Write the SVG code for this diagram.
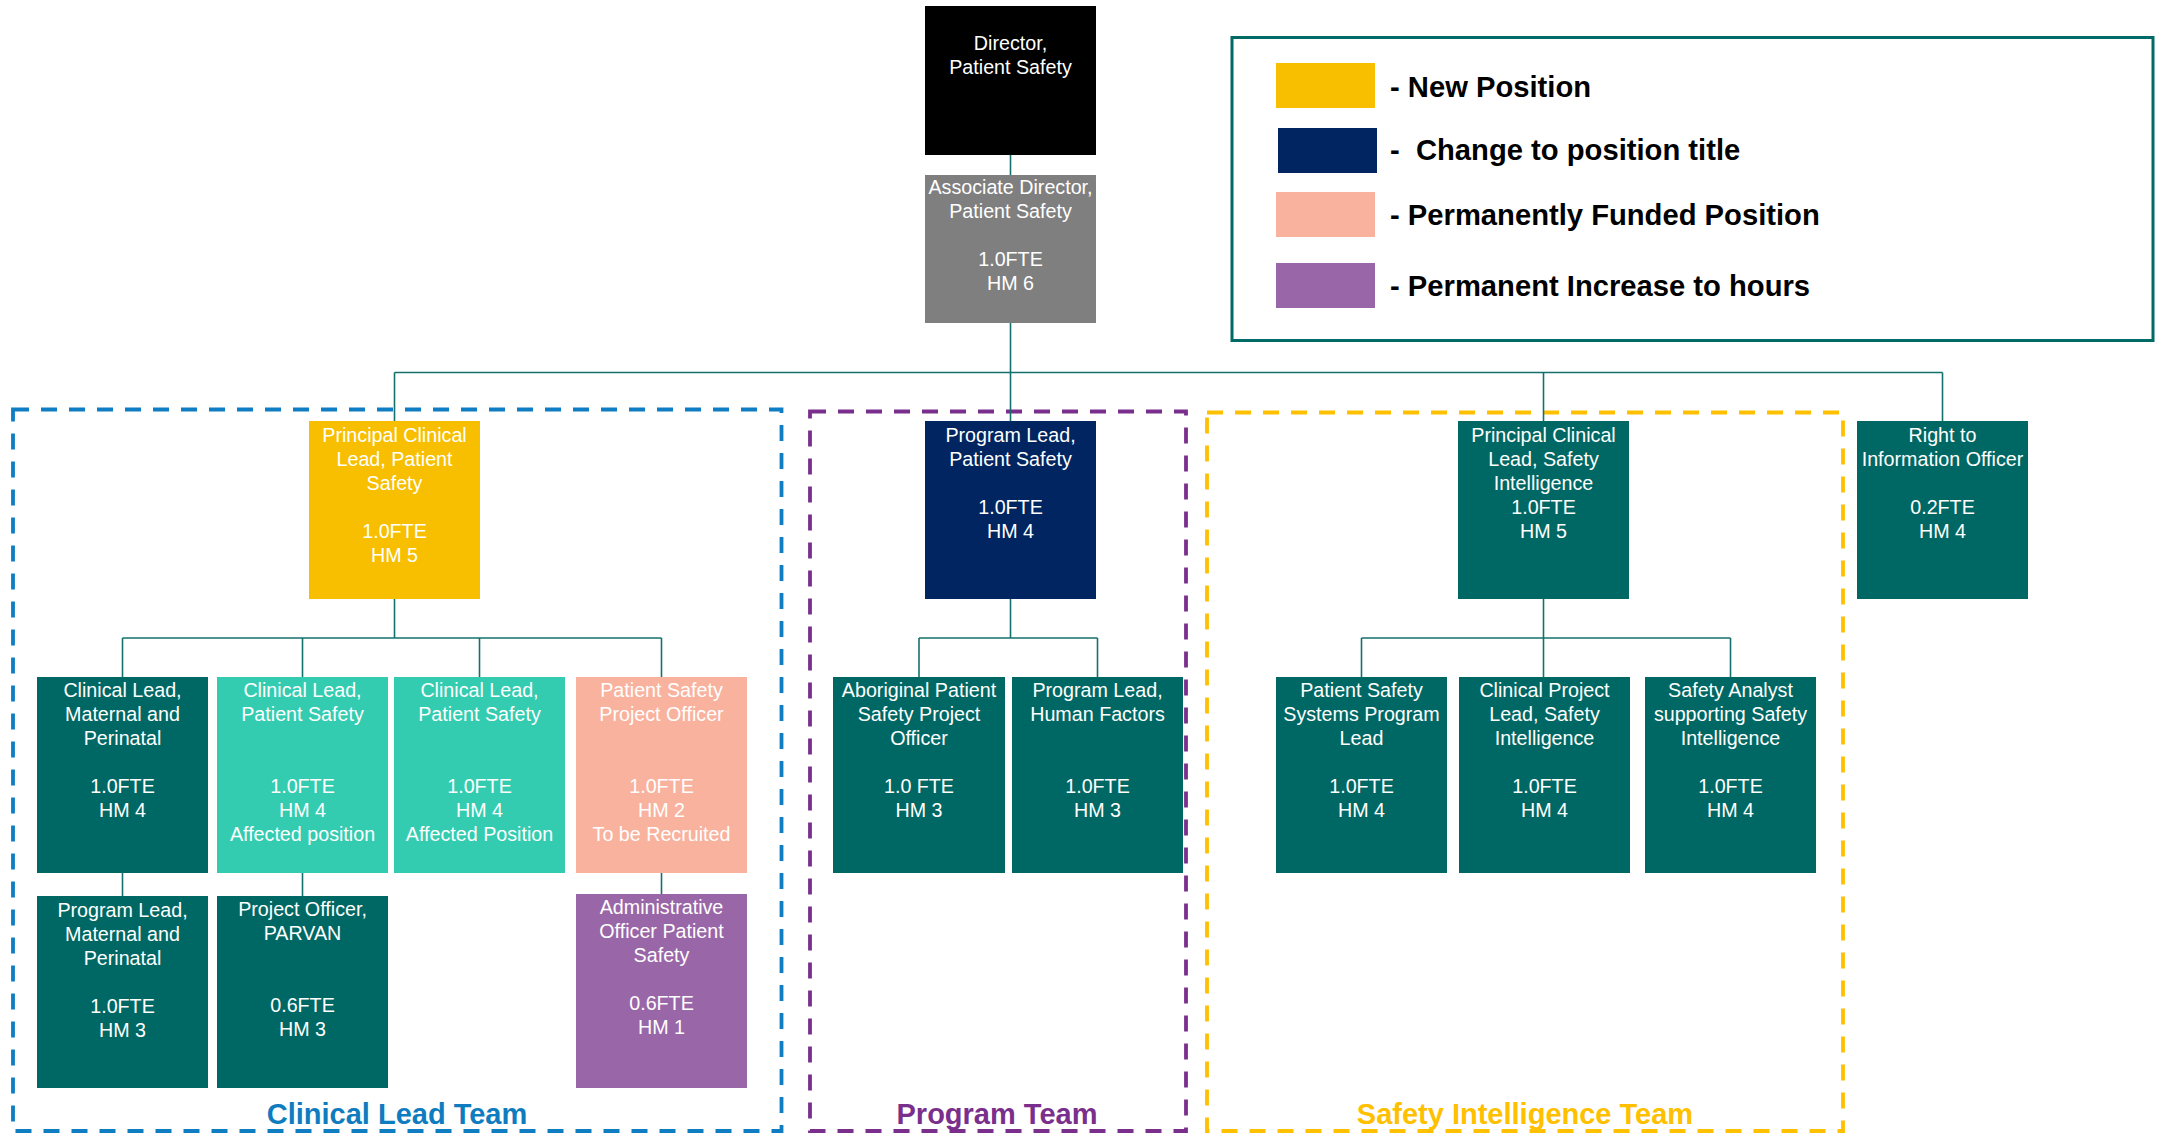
<svg xmlns="http://www.w3.org/2000/svg" width="2161" height="1133" viewBox="0 0 2161 1133">
<style>
.n text{font-family:"Liberation Sans",Arial,sans-serif;font-size:19.7px;fill:#ffffff;text-anchor:middle}
.teal{fill:#006864}
.lteal{fill:#33CCB0}
.salmon{fill:#F9B29D}
.purple{fill:#9966A8}
.yellow{fill:#F8BF00}
.navy{fill:#002560}
.gray{fill:#7F7F7F}
.black{fill:#000000}
.conn line{stroke:#13706C;stroke-width:1.6;fill:none}
.team{fill:none;stroke-width:3.8;stroke-dasharray:16 12}
.tl{font-family:"Liberation Sans",Arial,sans-serif;font-size:29px;font-weight:bold;text-anchor:middle}
.lg{font-family:"Liberation Sans",Arial,sans-serif;font-size:29.2px;font-weight:bold;fill:#000000}
</style>
<rect width="2161" height="1133" fill="#ffffff"/>

<g id="teams">
<rect class="team" x="13" y="409.5" width="768.5" height="721.5" stroke="#0E7DC2"/>
<rect class="team" x="810" y="411.5" width="376" height="719.5" stroke="#7A2F8D"/>
<rect class="team" x="1207" y="412.5" width="636" height="718.5" stroke="#FFC000"/>
<text class="tl" x="397" y="1124" fill="#0F7CBF">Clinical Lead Team</text>
<text class="tl" x="997" y="1124" fill="#7A2F8D">Program Team</text>
<text class="tl" x="1525" y="1124" fill="#FFC000">Safety Intelligence Team</text>
</g>

<g id="legend">
<rect x="1232" y="37.5" width="921" height="303" fill="none" stroke="#006B66" stroke-width="3"/>
<rect x="1276" y="63" width="99" height="45" fill="#F8BF00"/>
<rect x="1278" y="128" width="99" height="45" fill="#002560"/>
<rect x="1276" y="192" width="99" height="45" fill="#F9B29D"/>
<rect x="1276" y="263" width="99" height="45" fill="#9966A8"/>
<text class="lg" x="1390" y="97">- New Position</text>
<text class="lg" x="1390" y="160" xml:space="preserve">-  Change to position title</text>
<text class="lg" x="1390" y="225">- Permanently Funded Position</text>
<text class="lg" x="1390" y="296">- Permanent Increase to hours</text>
</g>

<g id="connectors" class="conn">
<line x1="1010.5" y1="155" x2="1010.5" y2="175"/>
<line x1="1010.5" y1="323" x2="1010.5" y2="421"/>
<line x1="394.5" y1="372.5" x2="1942.5" y2="372.5"/>
<line x1="394.5" y1="372.5" x2="394.5" y2="421"/>
<line x1="1543.5" y1="372.5" x2="1543.5" y2="421"/>
<line x1="1942.5" y1="372.5" x2="1942.5" y2="421"/>
<line x1="394.5" y1="599" x2="394.5" y2="638"/>
<line x1="122.5" y1="638" x2="661.5" y2="638"/>
<line x1="122.5" y1="638" x2="122.5" y2="677"/>
<line x1="302.5" y1="638" x2="302.5" y2="677"/>
<line x1="479.5" y1="638" x2="479.5" y2="677"/>
<line x1="661.5" y1="638" x2="661.5" y2="677"/>
<line x1="122.5" y1="873" x2="122.5" y2="896"/>
<line x1="302.5" y1="873" x2="302.5" y2="896"/>
<line x1="661.5" y1="873" x2="661.5" y2="894"/>
<line x1="1010.5" y1="599" x2="1010.5" y2="638"/>
<line x1="919" y1="638" x2="1097.5" y2="638"/>
<line x1="919" y1="638" x2="919" y2="677"/>
<line x1="1097.5" y1="638" x2="1097.5" y2="677"/>
<line x1="1543.5" y1="599" x2="1543.5" y2="677"/>
<line x1="1361.5" y1="638" x2="1730.5" y2="638"/>
<line x1="1361.5" y1="638" x2="1361.5" y2="677"/>
<line x1="1730.5" y1="638" x2="1730.5" y2="677"/>
</g>

<g id="director" class="n">
<rect class="black" x="925" y="6" width="171" height="149"/>
<text><tspan x="1010.5" y="50">Director,</tspan><tspan x="1010.5" y="74">Patient Safety</tspan></text>
</g>
<g id="assoc-director" class="n">
<rect class="gray" x="925" y="175" width="171" height="148"/>
<text><tspan x="1010.5" y="194">Associate Director,</tspan><tspan x="1010.5" y="218">Patient Safety</tspan><tspan x="1010.5" y="266">1.0FTE</tspan><tspan x="1010.5" y="290">HM 6</tspan></text>
</g>

<g id="pcl-ps" class="n">
<rect class="yellow" x="309" y="421" width="171" height="178"/>
<text><tspan x="394.5" y="441.7">Principal Clinical</tspan><tspan x="394.5" y="465.7">Lead, Patient</tspan><tspan x="394.5" y="489.7">Safety</tspan><tspan x="394.5" y="537.7">1.0FTE</tspan><tspan x="394.5" y="561.7">HM 5</tspan></text>
</g>
<g id="cl-mp" class="n">
<rect class="teal" x="37" y="677" width="171" height="196"/>
<text><tspan x="122.5" y="697">Clinical Lead,</tspan><tspan x="122.5" y="721">Maternal and</tspan><tspan x="122.5" y="745">Perinatal</tspan><tspan x="122.5" y="793">1.0FTE</tspan><tspan x="122.5" y="817">HM 4</tspan></text>
</g>
<g id="cl-ps1" class="n">
<rect class="lteal" x="217" y="677" width="171" height="196"/>
<text><tspan x="302.5" y="697">Clinical Lead,</tspan><tspan x="302.5" y="721">Patient Safety</tspan><tspan x="302.5" y="793">1.0FTE</tspan><tspan x="302.5" y="817">HM 4</tspan><tspan x="302.5" y="841">Affected position</tspan></text>
</g>
<g id="cl-ps2" class="n">
<rect class="lteal" x="394" y="677" width="171" height="196"/>
<text><tspan x="479.5" y="697">Clinical Lead,</tspan><tspan x="479.5" y="721">Patient Safety</tspan><tspan x="479.5" y="793">1.0FTE</tspan><tspan x="479.5" y="817">HM 4</tspan><tspan x="479.5" y="841">Affected Position</tspan></text>
</g>
<g id="pspo" class="n">
<rect class="salmon" x="576" y="677" width="171" height="196"/>
<text><tspan x="661.5" y="697">Patient Safety</tspan><tspan x="661.5" y="721">Project Officer</tspan><tspan x="661.5" y="793">1.0FTE</tspan><tspan x="661.5" y="817">HM 2</tspan><tspan x="661.5" y="841">To be Recruited</tspan></text>
</g>
<g id="pl-mp" class="n">
<rect class="teal" x="37" y="896" width="171" height="192"/>
<text><tspan x="122.5" y="916.7">Program Lead,</tspan><tspan x="122.5" y="940.7">Maternal and</tspan><tspan x="122.5" y="964.7">Perinatal</tspan><tspan x="122.5" y="1012.7">1.0FTE</tspan><tspan x="122.5" y="1036.7">HM 3</tspan></text>
</g>
<g id="po-parvan" class="n">
<rect class="teal" x="217" y="896" width="171" height="192"/>
<text><tspan x="302.5" y="916">Project Officer,</tspan><tspan x="302.5" y="940">PARVAN</tspan><tspan x="302.5" y="1012">0.6FTE</tspan><tspan x="302.5" y="1036">HM 3</tspan></text>
</g>
<g id="admin" class="n">
<rect class="purple" x="576" y="894" width="171" height="194"/>
<text><tspan x="661.5" y="913.5">Administrative</tspan><tspan x="661.5" y="937.5">Officer Patient</tspan><tspan x="661.5" y="961.5">Safety</tspan><tspan x="661.5" y="1009.5">0.6FTE</tspan><tspan x="661.5" y="1033.5">HM 1</tspan></text>
</g>

<g id="pl-ps" class="n">
<rect class="navy" x="925" y="421" width="171" height="178"/>
<text><tspan x="1010.5" y="441.7">Program Lead,</tspan><tspan x="1010.5" y="465.7">Patient Safety</tspan><tspan x="1010.5" y="513.7">1.0FTE</tspan><tspan x="1010.5" y="537.7">HM 4</tspan></text>
</g>
<g id="aboriginal" class="n">
<rect class="teal" x="833" y="677" width="172" height="196"/>
<text><tspan x="919" y="697">Aboriginal Patient</tspan><tspan x="919" y="721">Safety Project</tspan><tspan x="919" y="745">Officer</tspan><tspan x="919" y="793">1.0 FTE</tspan><tspan x="919" y="817">HM 3</tspan></text>
</g>
<g id="pl-hf" class="n">
<rect class="teal" x="1012" y="677" width="171" height="196"/>
<text><tspan x="1097.5" y="697">Program Lead,</tspan><tspan x="1097.5" y="721">Human Factors</tspan><tspan x="1097.5" y="793">1.0FTE</tspan><tspan x="1097.5" y="817">HM 3</tspan></text>
</g>

<g id="pcl-si" class="n">
<rect class="teal" x="1458" y="421" width="171" height="178"/>
<text><tspan x="1543.5" y="441.7">Principal Clinical</tspan><tspan x="1543.5" y="465.7">Lead, Safety</tspan><tspan x="1543.5" y="489.7">Intelligence</tspan><tspan x="1543.5" y="513.7">1.0FTE</tspan><tspan x="1543.5" y="537.7">HM 5</tspan></text>
</g>
<g id="pssp" class="n">
<rect class="teal" x="1276" y="677" width="171" height="196"/>
<text><tspan x="1361.5" y="697">Patient Safety</tspan><tspan x="1361.5" y="721">Systems Program</tspan><tspan x="1361.5" y="745">Lead</tspan><tspan x="1361.5" y="793">1.0FTE</tspan><tspan x="1361.5" y="817">HM 4</tspan></text>
</g>
<g id="cpl-si" class="n">
<rect class="teal" x="1459" y="677" width="171" height="196"/>
<text><tspan x="1544.5" y="697">Clinical Project</tspan><tspan x="1544.5" y="721">Lead, Safety</tspan><tspan x="1544.5" y="745">Intelligence</tspan><tspan x="1544.5" y="793">1.0FTE</tspan><tspan x="1544.5" y="817">HM 4</tspan></text>
</g>
<g id="sa-si" class="n">
<rect class="teal" x="1645" y="677" width="171" height="196"/>
<text><tspan x="1730.5" y="697">Safety Analyst</tspan><tspan x="1730.5" y="721">supporting Safety</tspan><tspan x="1730.5" y="745">Intelligence</tspan><tspan x="1730.5" y="793">1.0FTE</tspan><tspan x="1730.5" y="817">HM 4</tspan></text>
</g>

<g id="rti" class="n">
<rect class="teal" x="1857" y="421" width="171" height="178"/>
<text><tspan x="1942.5" y="441.7">Right to</tspan><tspan x="1942.5" y="465.7">Information Officer</tspan><tspan x="1942.5" y="513.7">0.2FTE</tspan><tspan x="1942.5" y="537.7">HM 4</tspan></text>
</g>
</svg>
